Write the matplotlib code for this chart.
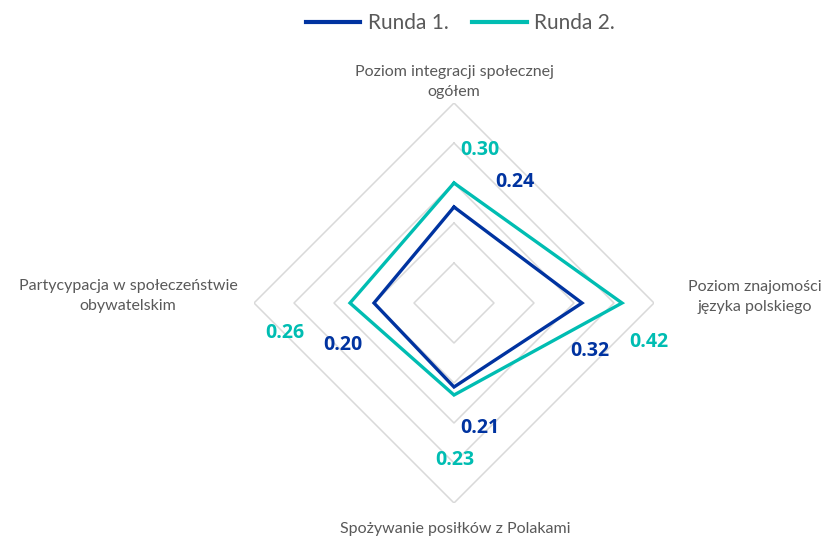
import numpy as np
import matplotlib
matplotlib.use("Agg")
import matplotlib.pyplot as plt

# ── data ─────────────────────────────────────────────────────────────────
categories = [
    "Poziom integracji społecznej\nogółem",
    "Poziom znajomości\njęzyka polskiego",
    "Spożywanie posiłków z Polakami",
    "Partycypacja w społeczeństwie\nobywatelskim",
]
runda_1 = [0.24, 0.32, 0.21, 0.20]
runda_2 = [0.30, 0.42, 0.23, 0.26]
series_names = ["Runda 1.", "Runda 2."]
grid_levels = [0.1, 0.2, 0.3, 0.4, 0.5]

# ── style ────────────────────────────────────────────────────────────────
c1 = "#0033A0"
c2 = "#00BDB2"
grid_c = "#D9D9D9"
text_c = "#595959"
# label offsets in pixels (dx, dy) relative to each vertex
off_1 = [(61, 25), (8, -48), (26, -41), (-31, -42)]
off_2 = [(26, 33), (27, -39), (1, -65), (-65, -30)]
cat_off = [(0, 21), (101, 6), (1, -26), (-126, 7)]

fig = plt.figure(figsize=(8.34, 5.40), dpi=100)
ax = fig.add_axes([254 / 834, (540 - 303 - 200) / 540, 400 / 834, 400 / 540],
                  projection="polar")
ax.set_theta_offset(np.pi / 2)
ax.set_theta_direction(-1)
ax.set_ylim(0, 0.5)
ax.grid(False)
ax.set_xticks([])
ax.set_yticks([])
ax.spines["polar"].set_visible(False)
ax.patch.set_alpha(0)

theta = np.linspace(0, 2 * np.pi, len(categories), endpoint=False)
closed = np.append(theta, theta[0])

for lvl in grid_levels:
    ax.plot(closed, [lvl] * len(closed), color=grid_c, lw=1.1, zorder=1)

for vals, col, name in [(runda_1, c1, series_names[0]), (runda_2, c2, series_names[1])]:
    ax.plot(closed, vals + vals[:1], color=col, lw=2.4, label=name, zorder=3,
            solid_joinstyle="miter")

for vals, col, offs in [(runda_1, c1, off_1), (runda_2, c2, off_2)]:
    for t, v, (dx, dy) in zip(theta, vals, offs):
        ax.annotate(f"{v:.2f}", xy=(t, v), xytext=(dx, dy),
                    textcoords="offset pixels", ha="center", va="center",
                    fontsize=14, fontweight="bold", color=col,
                    family="Open Sans", annotation_clip=False)

for t, lab, (dx, dy) in zip(theta, categories, cat_off):
    ax.annotate(lab, xy=(t, grid_levels[-1]), xytext=(dx, dy),
                textcoords="offset pixels", ha="center", va="center",
                fontsize=11.5, color=text_c, family="Lato",
                linespacing=1.55, annotation_clip=False)

leg = fig.legend(loc="upper center", bbox_to_anchor=(0.552, 1.01), ncol=2,
                 frameon=False, handlelength=2.6, handletextpad=0.35,
                 columnspacing=1.15, prop={"family": "Lato", "size": 15})
for txt in leg.get_texts():
    txt.set_color(text_c)
for ln in leg.get_lines():
    ln.set_linewidth(3)

fig.savefig("out.png", dpi=100)
